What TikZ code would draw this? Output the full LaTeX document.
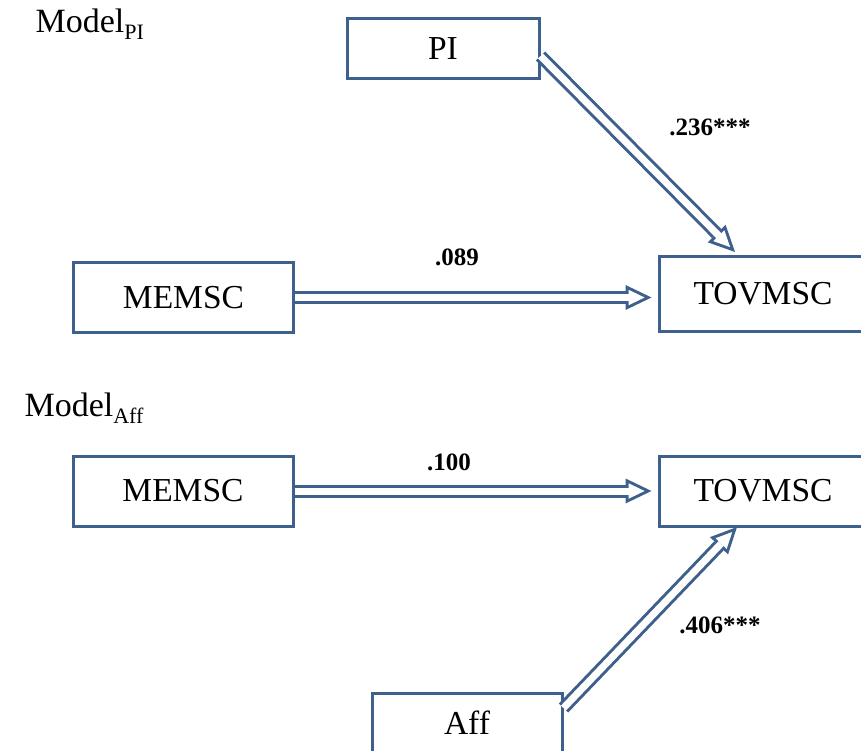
\documentclass[tikz,border=0pt]{standalone}
\usepackage{fontspec}
\setmainfont{Liberation Serif}
\usetikzlibrary{arrows.meta}
\definecolor{boxblue}{RGB}{62,96,140}

\begin{document}
\begin{tikzpicture}[x=1pt,y=-1pt]
    \tikzstyle{box}=[rectangle,draw=boxblue,line width=3pt,inner sep=0pt,font=\fontsize{33.5}{40}\selectfont]
    \tikzstyle{effect}=[draw=boxblue,line width=13pt,-{Triangle[length=26pt,width=25pt,line width=0pt]},
        postaction={draw=white,line width=7pt,shorten >=6.9pt,-{Triangle[length=16.1pt,width=15.5pt,line width=0pt]}}]
    \tikzstyle{coef}=[font=\bfseries\fontsize{25}{30}\selectfont]
    \useasboundingbox (0,0) rectangle (861,751);
    % model with PI
    \node[anchor=base west,font=\fontsize{34}{40}\selectfont] (titleA) at (32,33) {Model\raisebox{-7pt}{\fontsize{22}{26}\selectfont PI}};
    \node (pi)[box,minimum width=192pt,minimum height=60pt] at (443,49) {PI};
    \node (memA)[box,minimum width=220pt,minimum height=70pt] at (183.5,297.5) {MEMSC};
    \node (tovA)[box,minimum width=208pt,minimum height=75pt] at (763,293.5) {TOVMSC};
    \coordinate (endA) at ([xshift=-6pt]memA.east -| tovA.west);
    \draw[effect] ([yshift=-7pt]pi.east) -- ([xshift=77.5pt,yshift=2.5pt]tovA.north west);
    \draw[effect] (memA.east) -- (endA);
    \node[coef] (bA1) at (710,127) {.236***};
    \node[coef] (bA2) at (457,257) {.089};
    % model with Aff
    \node[anchor=base west,font=\fontsize{34}{40}\selectfont] (titleB) at (21,416) {Model\raisebox{-7pt}{\fontsize{22}{26}\selectfont Aff}};
    \node (memB)[box,minimum width=220pt,minimum height=70pt] at (183,491) {MEMSC};
    \node (tovB)[box,minimum width=208pt,minimum height=70pt] at (763,491) {TOVMSC};
    \node (aff)[box,minimum width=190pt,minimum height=60pt] at (467,723) {Aff};
    \coordinate (endB) at ([xshift=-6pt]tovB.west);
    \draw[effect] (memB.east) -- (endB);
    \draw[effect] ([yshift=15pt]aff.east) -- ([xshift=79.5pt,yshift=0.5pt]tovB.south west);
    \node[coef] (bB1) at (449,462) {.100};
    \node[coef] (bB2) at (720,625) {.406***};
\end{tikzpicture}
\end{document}
